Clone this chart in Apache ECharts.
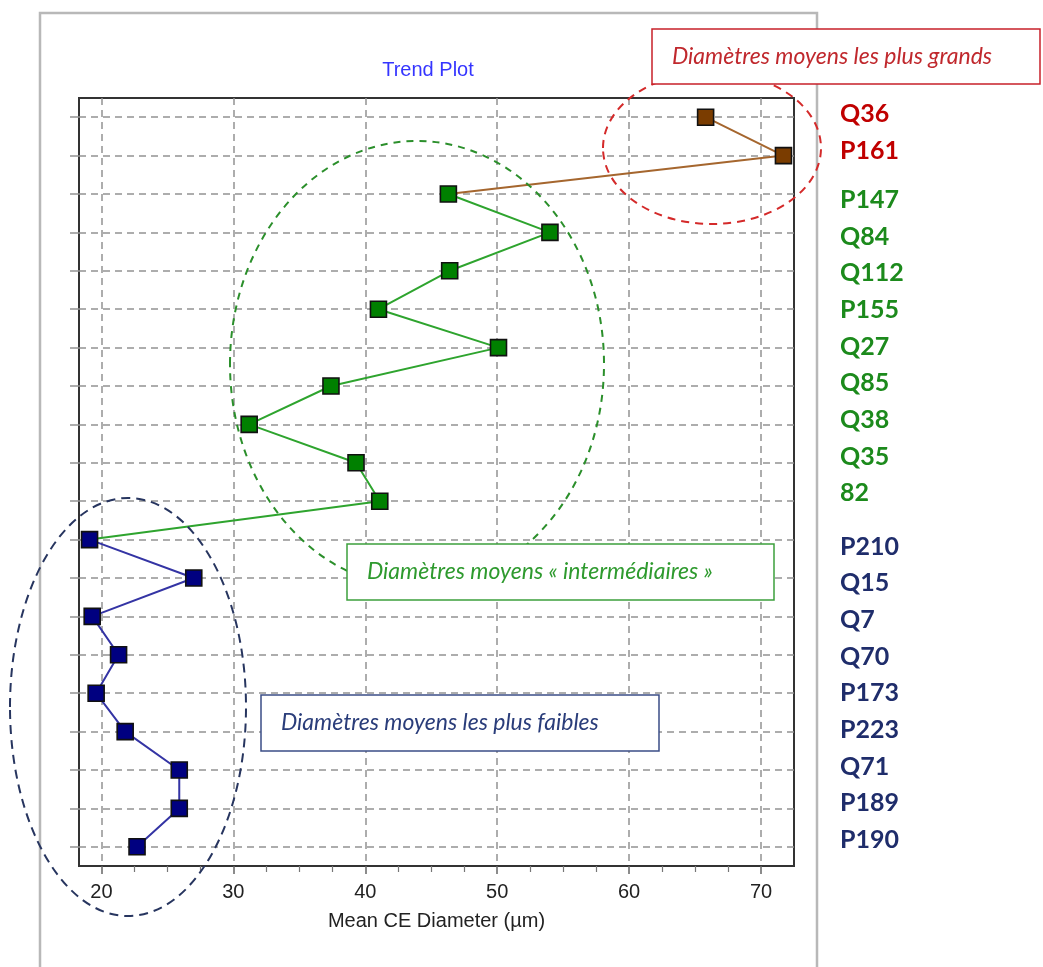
<!DOCTYPE html>
<html>
<head>
<meta charset="utf-8">
<script src="https://cdn.jsdelivr.net/npm/echarts@6/dist/echarts.min.js"></script>
<style>
html,body{margin:0;padding:0;background:#fff;}
#chart{width:1043px;height:967px;}
</style>
</head>
<body>
<div id="chart"></div>
<script>
// ---- data ----
const largeCats = ['Q36', 'P161'];
const largeValues = [65.8, 71.7];
const midCats = ['P147', 'Q84', 'Q112', 'P155', 'Q27', 'Q85', 'Q38', 'Q35', '82'];
const midValues = [46.3, 54.0, 46.4, 41.0, 50.1, 37.4, 31.2, 39.3, 41.1];
const smallCats = ['P210', 'Q15', 'Q7', 'Q70', 'P173', 'P223', 'Q71', 'P189', 'P190'];
const smallValues = [19.1, 27.0, 19.3, 21.3, 19.6, 21.8, 25.9, 25.9, 22.7];
const xTicks = [20, 30, 40, 50, 60, 70];
const xTitle = 'Mean CE Diameter (µm)';
const chartTitle = 'Trend Plot';
const noteLarge = 'Diamètres moyens les plus grands';
const noteMid = 'Diamètres moyens « intermédiaires »';
const noteSmall = 'Diamètres moyens les plus faibles';

// ---- derived ----
const categories = largeCats.concat(midCats, smallCats);
const rowIdx = categories.map((c, i) => i);
const offMid = largeCats.length;
const offSmall = largeCats.length + midCats.length;
const pts = (vals, off) => vals.map((v, i) => [v, off + i]);
const largeData = pts(largeValues, 0).concat([{ value: [midValues[0], offMid], symbol: 'none' }]);
const midData = pts(midValues, offMid).concat([{ value: [smallValues[0], offSmall], symbol: 'none' }]);
const smallData = pts(smallValues, offSmall);

const C = {
  brownMk: '#7a3c00', brownLn: '#a5662e',
  greenMk: '#008000', greenLn: '#2ea42e',
  navyMk: '#000080', navyLn: '#3434a4',
  red: '#c00000', green: '#1c8a1c', navy: '#1f2d6b'
};

const chart = echarts.init(document.getElementById('chart'), null, { renderer: 'canvas' });

function series(data, mk, ln, z) {
  return {
    type: 'line', data: data, z: z,
    symbol: 'rect', symbolSize: 16,
    itemStyle: { color: mk, borderColor: '#111', borderWidth: 1.6 },
    lineStyle: { color: ln, width: 2 },
    emphasis: { disabled: true },
    animation: false
  };
}

// right-hand label list
const labelGraphics = [];
function addLabels(list, startY, color) {
  list.forEach((t, i) => {
    labelGraphics.push({
      type: 'text', x: 840, y: startY + i * 36.67, z: 30,
      style: { text: t, fill: color, font: 'bold 25px Lato', textAlign: 'left', textVerticalAlign: 'middle' }
    });
  });
}
addLabels(largeCats, 114, C.red);
addLabels(midCats, 200, C.green);
addLabels(smallCats, 546.5, C.navy);

function box(x, y, w, h, stroke, text, color) {
  return [
    { type: 'rect', z: 40, shape: { x: x, y: y, width: w, height: h },
      style: { fill: '#fff', stroke: stroke, lineWidth: 1.5 } },
    { type: 'text', z: 41, x: x + 20, y: y + h / 2,
      style: { text: text, fill: color, font: 'italic 23px Lato', textAlign: 'left', textVerticalAlign: 'middle' } }
  ];
}

const dashedGrid = { show: true, lineStyle: { color: '#939393', width: 1.5, type: [7, 5] } };

chart.setOption({
  animation: false,
  grid: { left: 79, top: 98, width: 715, height: 768, show: true, borderColor: '#333', borderWidth: 2, backgroundColor: 'transparent' },
  xAxis: {
    type: 'value', min: 18.3, max: 72.5, position: 'bottom',
    axisLine: { show: false, onZero: false },
    axisTick: { show: true, customValues: xTicks, length: 8, lineStyle: { color: '#666', width: 1.5 } },
    minorTick: { show: true, splitNumber: 4, length: 6, lineStyle: { color: '#777', width: 1.2 } },
    splitLine: dashedGrid,
    axisLabel: { customValues: xTicks, fontSize: 20, fontFamily: 'Liberation Sans, Arial', color: '#222', margin: 16 },
    name: xTitle, nameLocation: 'middle', nameGap: 45,
    nameTextStyle: { fontSize: 20, fontFamily: 'Liberation Sans, Arial', color: '#222' }
  },
  yAxis: {
    type: 'value', inverse: true, min: -0.5, max: categories.length - 0.5, position: 'left',
    axisLine: { show: false, onZero: false },
    axisLabel: { show: false },
    axisTick: { show: true, customValues: rowIdx, length: 9, lineStyle: { color: '#939393', width: 1.5 } },
    splitLine: dashedGrid
  },
  series: [
    series(largeData, C.brownMk, C.brownLn, 2),
    series(midData, C.greenMk, C.greenLn, 3),
    series(smallData, C.navyMk, C.navyLn, 4)
  ],
  graphic: [
    { type: 'rect', z: -10, silent: true, shape: { x: 40, y: 13, width: 777, height: 1000 },
      style: { fill: 'none', stroke: '#b8b8b8', lineWidth: 2.5 } },
    { type: 'text', x: 428, y: 70, z: 30,
      style: { text: chartTitle, fill: '#3535ff', font: '20px "Liberation Sans", Arial', textAlign: 'center', textVerticalAlign: 'middle' } },
    { type: 'ellipse', z: 20, shape: { cx: 712, cy: 148, rx: 109, ry: 76 },
      style: { fill: 'none', stroke: '#d42a2a', lineWidth: 2, lineDash: [8, 6] } },
    { type: 'ellipse', z: 20, shape: { cx: 417, cy: 364, rx: 187, ry: 223 },
      style: { fill: 'none', stroke: '#2b8f2b', lineWidth: 2, lineDash: [7, 6] } },
    { type: 'ellipse', z: 20, shape: { cx: 128, cy: 707, rx: 118, ry: 209 },
      style: { fill: 'none', stroke: '#27355f', lineWidth: 2, lineDash: [9, 6] } }
  ].concat(
    box(652, 29, 388, 55, '#c8202a', noteLarge, '#c0282d'),
    box(347, 544, 427, 56, '#3ca03c', noteMid, '#2e9a2e'),
    box(261, 695, 398, 56, '#3b4e86', noteSmall, '#2a3d7a'),
    labelGraphics
  )
});
</script>
</body>
</html>
